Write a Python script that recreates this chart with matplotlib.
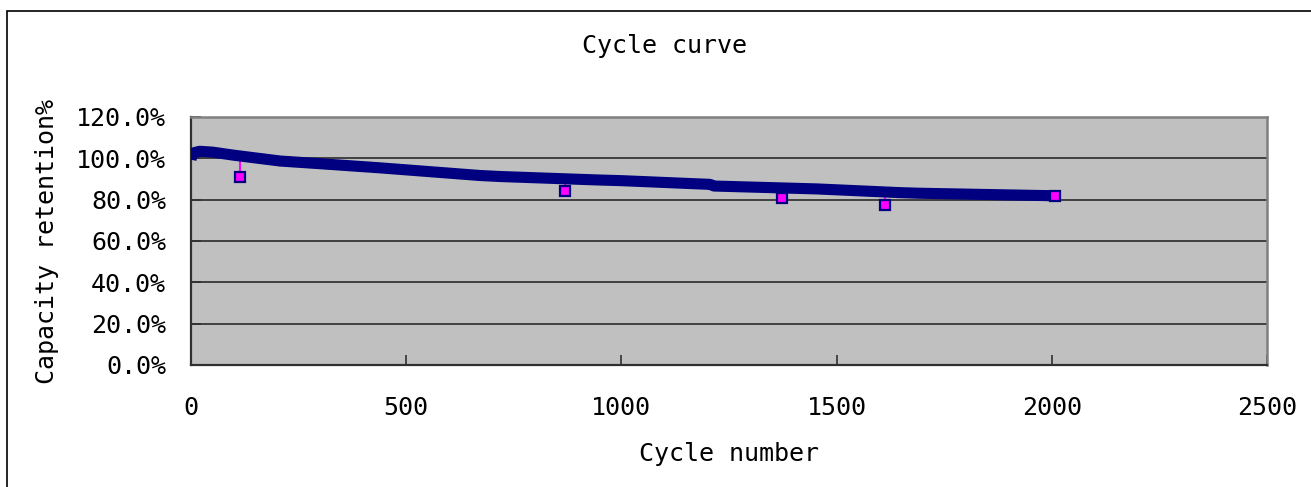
import numpy as np
import matplotlib.pyplot as plt
from matplotlib.patches import Rectangle
from matplotlib.ticker import FuncFormatter, MultipleLocator

# capacity retention curve
cycles = [0, 3, 20, 50, 100, 207, 300, 439, 671, 718, 950, 1000, 1183, 1206,
          1215, 1454, 1647, 1694, 2003]
retention = [99.3, 102.5, 103.4, 103.0, 101.5, 98.7, 97.4, 95.4, 91.7, 91.2,
             89.5, 89.2, 87.6, 87.4, 86.6, 85.2, 83.4, 83.1, 81.9]

# points that fall below the curve (magenta series)
dip_cycles = [114, 869, 1372, 1612, 2007]
dip_values = [91.2, 84.3, 81.0, 77.6, 82.0]

TITLE = "Cycle curve"
XLABEL = "Cycle number"
YLABEL = "Capacity retention%"

W, H = 1311, 487
plt.rcParams["font.family"] = ["DejaVu Sans Mono", "DejaVu Sans"]

fig = plt.figure(figsize=(W / 100, H / 100), dpi=100)
ax = fig.add_axes([191 / W, 1 - 365 / H, (1267 - 191) / W, (365 - 117) / H])
ax.set_facecolor("#c0c0c0")

ax.plot(cycles, retention, color="#000080", lw=8, solid_capstyle="butt",
        solid_joinstyle="round", zorder=3)

# short magenta drop lines from the curve to each dip point
tops = np.interp(dip_cycles, cycles, retention)
ax.vlines(dip_cycles, dip_values, tops, color="#ff00ff", lw=1.5, zorder=2)
ax.plot(dip_cycles, dip_values, ls="none", marker="s", ms=6.5,
        mfc="#ff00ff", mec="#000080", mew=1.6, zorder=4)

ax.set_xlim(0, 2500)
ax.set_ylim(0, 120)
ax.xaxis.set_major_locator(MultipleLocator(500))
ax.yaxis.set_major_locator(MultipleLocator(20))
ax.yaxis.set_major_formatter(FuncFormatter(lambda v, _: f"{v:.1f}%"))

ax.grid(axis="y", color="#404040", lw=1.4)
ax.set_axisbelow(True)
ax.tick_params(direction="in", length=7, width=1.2, color="#303030",
               labelsize=18)
ax.tick_params(axis="x", pad=22)
ax.tick_params(axis="y", pad=18)

for side in ["left", "bottom"]:
    ax.spines[side].set_color("#303030")
    ax.spines[side].set_linewidth(1.6)
for side in ["top", "right"]:
    ax.spines[side].set_color("#808080")
    ax.spines[side].set_linewidth(1.8)

ax.set_xlabel(XLABEL, fontsize=18, labelpad=16)
ax.set_ylabel(YLABEL, fontsize=18, labelpad=12)
fig.text(665 / W, 1 - 46 / H, TITLE, fontsize=18, ha="center", va="center")

# chart area border
fig.patches.append(Rectangle((7 / W, -0.1), 1.2, 1.1 - 10.5 / H, fill=False,
                             edgecolor="black", lw=1.2,
                             transform=fig.transFigure))

fig.savefig("out.png", dpi=100)
